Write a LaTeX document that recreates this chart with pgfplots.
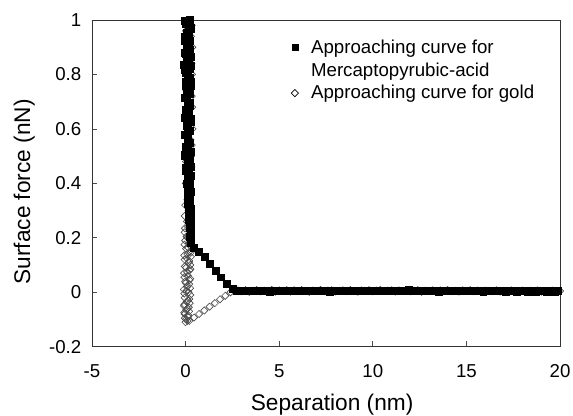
\documentclass[border=0pt]{standalone}
\usepackage{pgfplots}
\pgfplotsset{compat=1.18}
\usepackage{fontspec}
\setmainfont{Liberation Sans}
\begin{document}
\begin{tikzpicture}
\begin{axis}[
  scale only axis, width=351pt, height=245pt,
  xmin=-5, xmax=20, ymin=-0.2, ymax=1,
  xtick={-5,0,5,10,15,20}, xticklabels={-5,0,5,10,15,20},
  ytick={-0.2,0,0.2,0.4,0.6,0.8,1}, yticklabels={-0.2,0,0.2,0.4,0.6,0.8,1},
  tick pos=left, tick align=inside, major tick length=4pt,
  axis line style={line width=0.6pt, black!80},
  tick style={line width=0.5pt, black!70},
  /pgf/number format/assume math mode=true,
  ticklabel style={font=\fontsize{14}{16}\selectfont},
  xticklabel style={yshift=-10pt},
  yticklabel style={xshift=-4.5pt},
  xlabel={Separation (nm)}, ylabel={Surface force (nN)},
  label style={font=\fontsize{17}{20}\selectfont},
  xlabel style={at={(axis description cs:0.513,-0.196)}, anchor=base},
  ylabel style={at={(axis description cs:-0.145,0.474)}, anchor=center},
  legend style={draw=none, fill=none, at={(0.400,0.953)}, anchor=north west,
    font=\fontsize{14}{16}\selectfont, nodes={inner ysep=1pt}, row sep=3.5pt, column sep=7.5pt},
  legend cell align=left,
  clip=true,
]
\addlegendimage{only marks, mark=square*, mark size=2.3pt, mark options={fill=black, draw=black}}
\addlegendentry{Approaching curve for}
\addlegendimage{empty legend}
\addlegendentry{Mercaptopyrubic-acid}
\addlegendimage{only marks, mark=square, mark size=1.9pt, mark options={rotate=45, draw=black, fill=white, line width=0.5pt}}
\addlegendentry{Approaching curve for gold}

% gold (open diamonds), drawn first (behind)
\addplot[forget plot, only marks, mark=square, mark size=1.9pt, mark options={rotate=45, draw=black!70, fill=white, line width=0.5pt}] table {
x y
0.25 1.02
0.10 1.00
0.325 0.98
0.025 0.96
0.28 0.94
0.13 0.92
0.355 0.90
0.07 0.88
0.25 0.86
0.31 0.84
0.10 0.82
0.34 0.80
0.175 0.78
0.28 0.76
0.04 0.74
0.325 0.72
0.22 0.70
0.355 0.68
0.10 0.66
0.295 0.64
0.175 0.62
0.37 0.60
0.07 0.58
0.25 0.56
0.325 0.54
0.13 0.52
0.28 0.50
0.025 0.48
0.31 0.46
0.19 0.44
0.25 0.42
0.01 0.40
0.22 0.38
0.28 0.36
0.10 0.34
-0.02 0.32
0.16 0.30
-0.05 0.28
0.07 0.26
0.13 0.24
-0.05 0.22
0.10 0.20
-0.02 0.19
0.175 0.18
0.25 0.17
0.025 0.16
0.22 0.15
0.10 0.14
0.28 0.13
-0.05 0.12
0.175 0.11
0.25 0.10
0.025 0.09
0.205 0.08
-0.08 0.07
0.13 0.06
0.25 0.05
-0.02 0.04
0.19 0.03
0.07 0.02
-0.095 0.01
0.16 0.00
0.25 -0.01
-0.05 -0.02
0.13 -0.03
0.22 -0.04
-0.08 -0.05
0.10 -0.06
0.19 -0.07
-0.05 -0.08
0.13 -0.09
0.025 -0.10
-0.005 -0.11
0.22 0.245
-0.03 0.235
0.26 0.225
0.05 0.205
0.27 0.195
-0.06 0.175
0.12 0.165
0.27 0.145
-0.07 0.135
0.05 0.125
0.20 0.115
-0.04 0.095
0.26 0.085
0.08 0.075
-0.06 0.055
0.21 0.045
0.00 0.035
0.24 0.015
0.04 0.005
-0.07 -0.005
0.20 -0.025
0.06 -0.035
-0.06 -0.045
0.17 -0.055
0.03 -0.065
-0.07 -0.075
0.15 -0.085
-0.04 -0.095
0.10 -0.105
0.20 -0.105
0.45 -0.093
0.72 -0.080
1.00 -0.067
1.28 -0.053
1.56 -0.040
1.84 -0.026
2.12 -0.013
2.40 0.000
2.60 0.006
2.8 0.0065
3.0 0.0035
3.2 0.0075
3.4 0.0015
3.6 0.0055
3.8 0.0080
4.0 0.0030
4.2 0.0060
4.4 0.0045
4.6 0.0085
4.8 0.0020
5.0 0.0065
5.2 0.0050
5.4 0.0075
5.6 0.0025
5.8 0.0070
6.0 0.0040
6.2 0.0080
6.4 0.0055
6.6 0.0015
6.8 0.0065
7.0 0.0045
7.2 0.0085
7.4 0.0035
7.6 0.0060
7.8 0.0075
8.0 0.0025
8.2 0.0055
8.4 0.0070
8.6 0.0040
8.8 0.0080
9.0 0.0050
9.2 0.0020
9.4 0.0065
9.6 0.0045
9.8 0.0075
10.0 0.0035
10.2 0.0060
10.4 0.0085
10.6 0.0040
10.8 0.0055
11.0 0.0070
11.2 0.0025
11.4 0.0065
11.6 0.0050
11.8 0.0080
12.0 0.0035
12.2 0.0055
12.4 0.0075
12.6 0.0015
12.8 0.0060
13.0 0.0045
13.2 0.0070
13.4 0.0030
13.6 0.0065
13.8 0.0050
14.0 0.0080
14.2 0.0040
14.4 0.0055
14.6 0.0025
14.8 0.0070
15.0 0.0045
15.2 0.0075
15.4 0.0035
15.6 0.0060
15.8 0.0020
16.0 0.0065
16.2 0.0050
16.4 0.0040
16.6 0.0070
16.8 0.0025
17.0 0.0055
17.2 0.0045
17.4 0.0065
17.6 0.0015
17.8 0.0050
18.0 0.0060
18.2 0.0030
18.4 0.0055
18.6 0.0040
18.8 0.0065
19.0 0.0020
19.2 0.0050
19.4 0.0035
19.6 0.0055
19.8 0.0025
20.0 0.0045
};

% Mercaptopyruvic acid (filled squares)
\addplot[forget plot, only marks, mark=square*, mark size=2.6pt, mark options={fill=black, draw=black}] table {
x y
0.09 1.02
0.22 1.0125
0.20 1.00
-0.03 0.9975
0.00 0.985
0.15 0.9825
0.28 0.97
0.27 0.9675
0.12 0.955
0.04 0.9525
-0.05 0.94
0.19 0.9375
0.23 0.925
-0.06 0.9225
0.06 0.91
0.11 0.9075
0.17 0.895
0.25 0.8925
-0.02 0.88
0.01 0.8775
0.26 0.865
0.17 0.8625
0.09 0.85
0.08 0.8475
-0.08 0.835
0.28 0.8325
0.20 0.82
-0.04 0.8175
0.03 0.805
0.13 0.8025
0.14 0.79
0.21 0.7875
0.28 0.775
0.02 0.7725
0.00 0.76
0.26 0.7575
0.12 0.745
0.07 0.7425
0.23 0.73
0.16 0.7275
-0.05 0.715
-0.05 0.7125
0.09 0.70
0.23 0.6975
0.20 0.685
0.10 0.6825
0.03 0.67
0.18 0.6675
0.14 0.655
0.00 0.6525
-0.02 0.64
0.27 0.6375
0.26 0.625
0.05 0.6225
0.06 0.61
0.14 0.6075
0.17 0.595
0.24 0.5925
-0.05 0.58
-0.02 0.5775
0.12 0.565
0.12 0.5625
0.23 0.55
0.20 0.5475
0.03 0.535
0.06 0.5325
0.14 0.52
0.28 0.5175
-0.02 0.505
-0.03 0.5025
0.20 0.49
0.15 0.4875
0.09 0.475
0.22 0.4725
0.28 0.46
0.03 0.4575
0.00 0.445
0.18 0.4425
0.14 0.43
0.26 0.4275
0.23 0.415
0.09 0.4125
0.06 0.40
0.21 0.3975
0.17 0.385
0.13 0.3825
0.28 0.37
0.27 0.3675
0.10 0.355
0.16 0.3525
0.22 0.34
0.24 0.3375
0.14 0.325
0.19 0.3225
0.25 0.31
0.28 0.3075
0.16 0.295
0.21 0.2925
0.26 0.28
0.25 0.2775
0.18 0.265
0.23 0.2625
0.27 0.25
0.27 0.2475
0.20 0.235
0.25 0.2325
0.26 0.22
0.28 0.2175
0.22 0.205
0.27 0.19
0.30 0.180
0.45 0.165
0.70 0.150
1.00 0.130
1.30 0.105
1.60 0.080
1.90 0.055
2.20 0.030
2.50 0.013
2.75 0.007
2.9 0.006
3.1 0.004
3.3 0.005
3.5 0.007
3.7 0.005
3.9 0.004
4.1 0.006
4.3 0.005
4.5 0.003
4.7 0.006
4.9 0.005
5.1 0.007
5.3 0.004
5.5 0.005
5.7 0.006
5.9 0.005
6.1 0.004
6.3 0.006
6.5 0.007
6.7 0.005
6.9 0.004
7.1 0.005
7.3 0.006
7.5 0.005
7.7 0.003
7.9 0.005
8.1 0.006
8.3 0.004
8.5 0.005
8.7 0.007
8.9 0.006
9.1 0.005
9.3 0.004
9.5 0.005
9.7 0.006
9.9 0.005
10.1 0.004
10.3 0.006
10.5 0.005
10.7 0.007
10.9 0.006
11.1 0.005
11.3 0.004
11.5 0.005
11.7 0.006
11.9 0.008
12.1 0.006
12.3 0.005
12.5 0.004
12.7 0.005
12.9 0.006
13.1 0.005
13.3 0.004
13.5 0.003
13.7 0.005
13.9 0.006
14.1 0.005
14.3 0.004
14.5 0.005
14.7 0.006
14.9 0.005
15.1 0.004
15.3 0.006
15.5 0.005
15.7 0.004
15.9 0.003
16.1 0.005
16.3 0.004
16.5 0.005
16.7 0.006
16.9 0.004
17.1 0.003
17.3 0.005
17.5 0.004
17.7 0.003
17.9 0.004
18.1 0.005
18.3 0.003
18.5 0.004
18.7 0.003
18.9 0.004
19.1 0.005
19.3 0.003
19.5 0.004
19.7 0.003
19.9 0.004
};
\end{axis}
\pgfresetboundingbox
\path (-69pt,-51.75pt) rectangle (360.75pt,260pt);
\end{tikzpicture}
\end{document}
